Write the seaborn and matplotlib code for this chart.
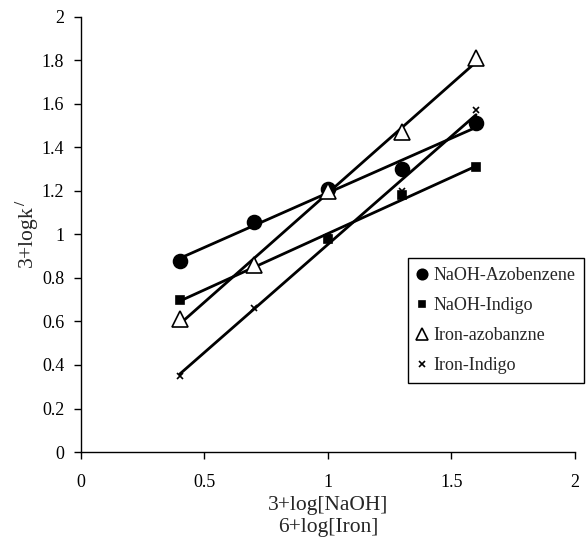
import numpy as np
import pandas as pd
import seaborn as sns
import matplotlib
from matplotlib import pyplot as plt
from matplotlib.ticker import FuncFormatter

sns.set_style('ticks')
plt.rcParams['font.family'] = ['Liberation Serif', 'DejaVu Serif']
plt.rcParams['mathtext.fontset'] = 'stix'
plt.rcParams['font.size'] = 13

x_naoh_azo = [0.4, 0.7, 1.0, 1.3, 1.6]
y_naoh_azo = [0.88, 1.055, 1.21, 1.30, 1.51]
x_naoh_ind = [0.4, 1.0, 1.3, 1.6]
y_naoh_ind = [0.70, 0.98, 1.18, 1.31]
x_iron_azo = [0.4, 0.7, 1.0, 1.3, 1.6]
y_iron_azo = [0.61, 0.86, 1.20, 1.47, 1.81]
x_iron_ind = [0.4, 0.7, 1.0, 1.3, 1.6]
y_iron_ind = [0.35, 0.66, 0.99, 1.20, 1.57]

series = [
    ('NaOH-Azobenzene', x_naoh_azo, y_naoh_azo, 'o', 10, 'black'),
    ('NaOH-Indigo', x_naoh_ind, y_naoh_ind, 's', 6, 'black'),
    ('Iron-azobanzne', x_iron_azo, y_iron_azo, '^', 11, 'white'),
    ('Iron-Indigo', x_iron_ind, y_iron_ind, 'x', 5, 'black'),
]

fig = plt.figure(figsize=(5.86, 5.42), dpi=100)
ax = fig.add_axes([0.138, 0.166, 0.843, 0.803])

for name, xs, ys, mk, ms, fc in series:
    df = pd.DataFrame({'x': xs, 'y': ys})
    sns.regplot(data=df, x='x', y='y', ci=None, scatter=False, ax=ax,
                line_kws={'color': 'black', 'lw': 2, 'zorder': 2})
    ax.plot(df['x'], df['y'], linestyle='none', marker=mk, markersize=ms,
            markerfacecolor=fc, markeredgecolor='black', markeredgewidth=1.2,
            color='black', label=name, zorder=3)

ax.set_xlim(0, 2)
ax.set_ylim(0, 2)
ax.set_xticks([0, 0.5, 1, 1.5, 2])
ax.set_yticks(np.arange(0, 2.01, 0.2))
fmt = FuncFormatter(lambda v, p: '%g' % round(v, 2))
ax.xaxis.set_major_formatter(fmt)
ax.yaxis.set_major_formatter(fmt)
ax.tick_params(direction='out', length=5, width=1, colors='black', labelsize=13)
ax.tick_params(axis='x', pad=11)
ax.tick_params(axis='y', pad=7)
for s in ['top', 'right']:
    ax.spines[s].set_visible(False)
for s in ['left', 'bottom']:
    ax.spines[s].set_color('black')
    ax.spines[s].set_linewidth(1)

ax.set_xlabel('3+log[NaOH]\n6+log[Iron]', fontsize=15.5, linespacing=1.15)
ax.xaxis.set_label_coords(0.5, -0.102)
ax.set_ylabel('3+logk$^{\\,/}$', fontsize=15.5)
ax.yaxis.set_label_coords(-0.08, 0.5)

leg = ax.legend(loc='upper left', bbox_to_anchor=(408 / 586, 1 - 258 / 542),
                bbox_transform=fig.transFigure, frameon=True, fancybox=False,
                edgecolor='black', framealpha=1, fontsize=13, handlelength=0.6,
                handletextpad=0.3, borderpad=0.5, labelspacing=0.72,
                markerscale=0.75, borderaxespad=0)
leg.get_frame().set_linewidth(1)

fig.savefig('out.png', dpi=100)
